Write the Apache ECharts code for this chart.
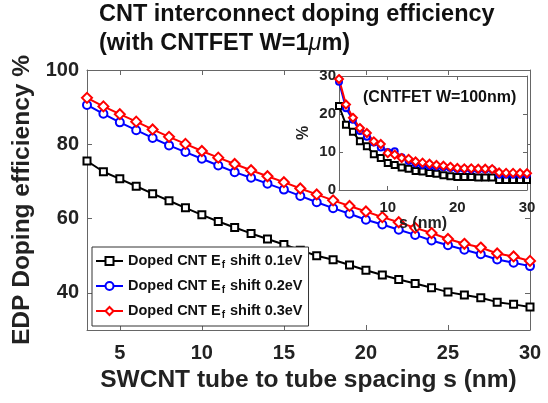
<!DOCTYPE html>
<html>
<head>
<meta charset="utf-8">
<script src="https://cdn.jsdelivr.net/npm/echarts@6/dist/echarts.min.js"></script>
<style>
	html, body { margin: 0; padding: 0; background: #fff; }
	#chart { width: 548px; height: 403px; }
</style>
</head>
<body>
<div id="chart"></div>
<script>
// spacing s (nm)
const spacing = [3, 4, 5, 6, 7, 8, 9, 10, 11, 12, 13, 14, 15, 16, 17, 18, 19, 20, 21, 22, 23, 24, 25, 26, 27, 28, 29, 30]

// main plot, CNTFET W=1um
const main01 = [75.5, 72.6, 70.7, 68.7, 66.7, 64.8, 62.9, 61.0, 59.2, 57.6, 56.0, 54.5, 53.0, 51.5, 50.0, 48.9, 47.5, 46.1, 44.8, 43.6, 42.5, 41.4, 40.2, 39.4, 38.7, 37.5, 36.9, 36.2]
const main02 = [90.6, 88.2, 85.9, 83.8, 81.7, 79.7, 77.9, 76.1, 74.3, 72.5, 71.0, 69.4, 67.8, 66.1, 64.4, 62.8, 61.3, 59.7, 58.4, 57.0, 55.6, 54.1, 52.8, 51.6, 50.4, 49.0, 48.1, 47.2]
const main03 = [92.5, 90.2, 88.1, 86.1, 84.0, 82.0, 80.1, 78.2, 76.4, 74.7, 73.0, 71.4, 69.8, 68.1, 66.5, 64.9, 63.4, 61.9, 60.4, 59.0, 57.5, 56.1, 54.5, 53.2, 52.2, 50.6, 49.8, 48.6]

// inset, CNTFET W=100nm
const inset01 = [22.1, 17.2, 15.3, 12.8, 11.5, 9.4, 8.4, 7.1, 6.6, 5.9, 5.6, 5.0, 4.9, 4.5, 4.3, 3.9, 3.6, 3.4, 3.4, 3.4, 3.3, 3.3, 3.3, 2.6, 2.6, 2.6, 2.6, 2.6]
const inset02 = [28.5, 21.5, 18.5, 15.5, 14.0, 12.5, 11.2, 10.0, 10.2, 8.6, 7.6, 7.0, 6.6, 6.3, 6.2, 6.0, 5.8, 5.5, 5.5, 5.4, 5.4, 5.4, 5.4, 4.0, 4.0, 4.0, 4.0, 4.0]
const inset03 = [29.2, 22.5, 19.0, 16.3, 15.0, 12.8, 12.1, 9.7, 9.3, 8.4, 8.2, 7.5, 7.2, 6.9, 6.6, 6.4, 6.1, 5.8, 5.7, 5.7, 5.6, 5.6, 5.5, 4.6, 4.5, 4.5, 4.4, 4.4]

// tick labels
const mainXTicks = [5, 10, 15, 20, 25, 30]
const mainYTicks = [40, 60, 80, 100]
const insetXTicks = [10, 20, 30]

const seriesNames = ['Doped CNT Ef shift 0.1eV', 'Doped CNT Ef shift 0.2eV', 'Doped CNT Ef shift 0.3eV']
const legendLabels = ['Doped CNT E{sub|f} shift 0.1eV', 'Doped CNT E{sub|f} shift 0.2eV', 'Doped CNT E{sub|f} shift 0.3eV']

const FONT = 'Liberation Sans'
const AXIS_COLOR = '#666'
const TEXT_COLOR = '#222'

const pairs = (ys) => spacing.map((x, i) => [x, ys[i]])

const chartInstance = echarts.init(document.getElementById('chart'))

// 四条边都画刻度的坐标轴
function boxAxis(opt) {
	return Object.assign({
		type: 'value',
		axisLine: { show: true, onZero: false, lineStyle: { color: AXIS_COLOR, width: 1 } },
		axisTick: { show: true, inside: true, length: 5, lineStyle: { color: AXIS_COLOR } },
		splitLine: { show: false },
		axisLabel: { show: false },
	}, opt)
}

const option = {
	backgroundColor: '#fff',
	animation: false,
	textStyle: { fontFamily: FONT },
	title: [
		{
			text: 'CNT interconnect doping efficiency\n(with CNTFET W=1{mu|μ}m)',
			left: 99,
			top: 0,
			padding: 0,
			textStyle: {
				fontFamily: FONT,
				fontSize: 23.5,
				fontWeight: 'bold',
				color: '#111',
				lineHeight: 29,
				rich: {
					mu: { fontFamily: FONT, fontSize: 23.5, fontWeight: 'normal', fontStyle: 'italic', color: '#111', lineHeight: 29 },
				},
			},
		},
		{
			text: '(CNTFET W=100nm)',
			left: 358,
			top: 85,
			textStyle: { fontFamily: FONT, fontSize: 16, fontWeight: 'bold', color: '#111' },
		},
	],
	legend: {
		data: seriesNames,
		orient: 'vertical',
		left: 92,
		top: 247,
		itemWidth: 27,
		itemHeight: 10,
		itemGap: 7,
		padding: [5, 6, 6, 3],
		borderColor: '#333',
		borderWidth: 1,
		backgroundColor: '#fff',
		formatter: (name) => legendLabels[seriesNames.indexOf(name)],
		textStyle: {
			fontFamily: FONT,
			fontSize: 14.5,
			fontWeight: 'bold',
			color: '#111',
			lineHeight: 18,
			rich: {
				sub: { fontFamily: FONT, fontSize: 10, fontWeight: 'bold', color: '#111', verticalAlign: 'bottom', lineHeight: 10, padding: [0, 1, 0, 1] },
			},
		},
	},
	grid: [
		{ left: 87, right: 18, top: 70, bottom: 73 },
		{ left: 339, right: 21, top: 76, height: 114, show: true, backgroundColor: '#fff', borderWidth: 0, z: 3 },
	],
	xAxis: [
		boxAxis({
			gridIndex: 0,
			min: 3,
			max: 30,
			axisTick: { show: true, inside: true, length: 5, lineStyle: { color: AXIS_COLOR }, customValues: mainXTicks },
			axisLabel: { show: true, customValues: mainXTicks, fontFamily: FONT, fontSize: 20, fontWeight: 'bold', color: TEXT_COLOR, margin: 13 },
			name: 'SWCNT tube to tube spacing s (nm)',
			nameLocation: 'middle',
			nameGap: 32,
			nameTextStyle: { fontFamily: FONT, fontSize: 24.5, fontWeight: 'bold', color: TEXT_COLOR },
		}),
		boxAxis({
			gridIndex: 0,
			position: 'top',
			min: 3,
			max: 30,
			axisTick: { show: true, inside: true, length: 5, lineStyle: { color: AXIS_COLOR }, customValues: mainXTicks },
		}),
		boxAxis({
			gridIndex: 1,
			min: 3,
			max: 30,
			z: 4,
			axisTick: { show: true, inside: true, length: 4, lineStyle: { color: AXIS_COLOR }, customValues: insetXTicks },
			axisLabel: { show: true, customValues: insetXTicks, fontFamily: FONT, fontSize: 15, fontWeight: 'bold', color: TEXT_COLOR, margin: 10 },
			name: 's (nm)',
			nameLocation: 'middle',
			nameGap: 18,
			nameTextStyle: { fontFamily: FONT, fontSize: 16, fontWeight: 'bold', color: TEXT_COLOR, padding: [0, 20, 0, 0] },
		}),
		boxAxis({
			gridIndex: 1,
			position: 'top',
			min: 3,
			max: 30,
			z: 4,
			axisTick: { show: true, inside: true, length: 4, lineStyle: { color: AXIS_COLOR }, customValues: insetXTicks },
		}),
	],
	yAxis: [
		boxAxis({
			gridIndex: 0,
			min: 30,
			max: 100,
			axisTick: { show: true, inside: true, length: 5, lineStyle: { color: AXIS_COLOR }, customValues: mainYTicks },
			axisLabel: { show: true, customValues: mainYTicks, fontFamily: FONT, fontSize: 20, fontWeight: 'bold', color: TEXT_COLOR, margin: 8 },
			name: 'EDP Doping efficiency %',
			nameLocation: 'middle',
			nameRotate: 90,
			nameGap: 48,
			nameTextStyle: { fontFamily: FONT, fontSize: 24.5, fontWeight: 'bold', color: TEXT_COLOR },
		}),
		boxAxis({
			gridIndex: 0,
			position: 'right',
			min: 30,
			max: 100,
			axisTick: { show: true, inside: true, length: 5, lineStyle: { color: AXIS_COLOR }, customValues: mainYTicks },
		}),
		boxAxis({
			gridIndex: 1,
			min: 0,
			max: 30,
			interval: 10,
			z: 4,
			axisTick: { show: true, inside: true, length: 4, lineStyle: { color: AXIS_COLOR } },
			axisLabel: { show: true, fontFamily: FONT, fontSize: 15, fontWeight: 'bold', color: TEXT_COLOR, margin: 3 },
			name: '%',
			nameLocation: 'middle',
			nameRotate: 90,
			nameGap: 27,
			nameTextStyle: { fontFamily: FONT, fontSize: 16, fontWeight: 'bold', color: TEXT_COLOR },
		}),
		boxAxis({
			gridIndex: 1,
			position: 'right',
			min: 0,
			max: 30,
			interval: 10,
			z: 4,
			axisTick: { show: true, inside: true, length: 4, lineStyle: { color: AXIS_COLOR } },
		}),
	],
	series: [
		{
			type: 'line', name: seriesNames[0], xAxisIndex: 0, yAxisIndex: 0,
			data: pairs(main01), symbol: 'emptyRect', symbolSize: 7,
			lineStyle: { color: '#000', width: 2 }, itemStyle: { color: '#000', borderWidth: 1.5 },
		},
		{
			type: 'line', name: seriesNames[1], xAxisIndex: 0, yAxisIndex: 0,
			data: pairs(main02), symbol: 'emptyCircle', symbolSize: 8,
			lineStyle: { color: '#0000ff', width: 2 }, itemStyle: { color: '#0000ff', borderWidth: 1.5 },
		},
		{
			type: 'line', name: seriesNames[2], xAxisIndex: 0, yAxisIndex: 0,
			data: pairs(main03), symbol: 'emptyDiamond', symbolSize: 10,
			lineStyle: { color: '#ff0000', width: 2 }, itemStyle: { color: '#ff0000', borderWidth: 1.5 },
		},
		{
			type: 'line', name: 'inset 0.1eV', xAxisIndex: 2, yAxisIndex: 2, z: 5,
			data: pairs(inset01), symbol: 'emptyRect', symbolSize: 6,
			lineStyle: { color: '#000', width: 2 }, itemStyle: { color: '#000', borderWidth: 2 },
		},
		{
			type: 'line', name: 'inset 0.2eV', xAxisIndex: 2, yAxisIndex: 2, z: 5,
			data: pairs(inset02), symbol: 'emptyCircle', symbolSize: 6,
			lineStyle: { color: '#0000ff', width: 2 }, itemStyle: { color: '#0000ff', borderWidth: 1.5 },
		},
		{
			type: 'line', name: 'inset 0.3eV', xAxisIndex: 2, yAxisIndex: 2, z: 5,
			data: pairs(inset03), symbol: 'emptyDiamond', symbolSize: 8,
			lineStyle: { color: '#ff0000', width: 2 }, itemStyle: { color: '#ff0000', borderWidth: 1.5 },
		},
	],
}

chartInstance.setOption(option)
</script>
</body>
</html>
